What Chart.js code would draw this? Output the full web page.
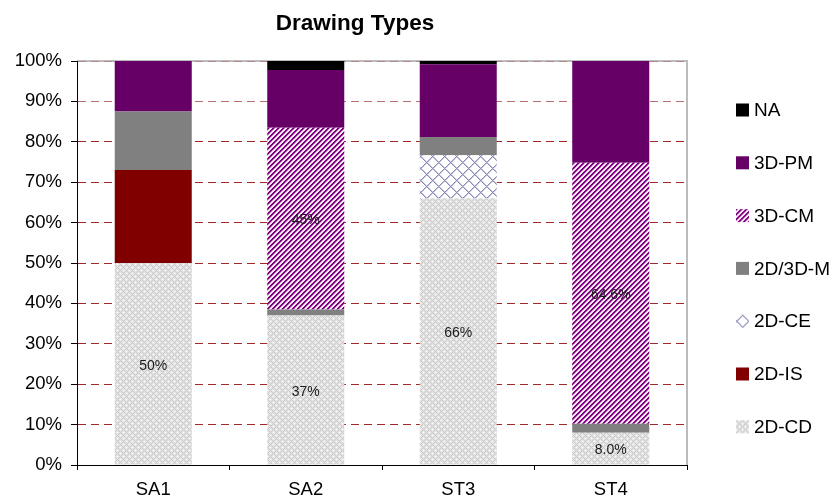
<!DOCTYPE html>
<html>
<head>
<meta charset="utf-8">
<title>Drawing Types</title>
<script src="https://cdn.jsdelivr.net/npm/chart.js@4/dist/chart.umd.min.js"></script>
<style>
  html, body { margin: 0; padding: 0; background: #ffffff; }
  canvas { display: block; }
</style>
</head>
<body>
<canvas id="chart" width="833" height="503"></canvas>
<script>
// Share of each drawing type per group (percent, stacked to 100)
const categories = ['SA1', 'SA2', 'ST3', 'ST4'];
const cdValues = [50, 37, 66, 8.0];        // 2D-CD
const isValues = [23, 0, 0, 0];            // 2D-IS
const ceValues = [0, 0, 10.7, 0];          // 2D-CE
const mValues  = [14.5, 1.5, 4.5, 2.2];    // 2D/3D-M
const cmValues = [0, 45, 0, 64.6];         // 3D-CM
const pmValues = [12.5, 14.3, 18.0, 25.2]; // 3D-PM
const naValues = [0, 2.2, 0.8, 0];         // NA
const yTickValues = [0, 10, 20, 30, 40, 50, 60, 70, 80, 90, 100];
const labelDecimals = [0, 0, 0, 1];        // number format of value labels per group

const FONT = "'Liberation Sans', Arial, Helvetica, sans-serif";
const canvas = document.getElementById('chart');
const ctx2d = canvas.getContext('2d');

// Small pixel tiles used as hatch fills
function makePattern(size, colorAt) {
  const tile = document.createElement('canvas');
  tile.width = size; tile.height = size;
  const g = tile.getContext('2d');
  g.fillStyle = '#ffffff';
  g.fillRect(0, 0, size, size);
  for (let y = 0; y < size; y++) {
    for (let x = 0; x < size; x++) {
      const c = colorAt(x, y);
      if (c) { g.fillStyle = c; g.fillRect(x, y, 1, 1); }
    }
  }
  return ctx2d.createPattern(tile, 'repeat');
}

// light grey fine lattice
const cdPattern = makePattern(6, (x, y) => {
  const a = (x + y) % 6, b = (x - y + 6) % 6;
  if (a === 0 || b === 0) return '#c6c6c6';
  if ((x === 3 && y === 0) || (x === 0 && y === 3)) return '#ffffff';
  return '#e6e6e6';
});
// purple diagonal stripes
const cmPattern = makePattern(5, (x, y) => {
  const k = (x + y) % 5;
  return ['#800080', '#800080', '#c68ac6', '#ffffff', '#eed8ee'][k];
});
// open blue-grey diamond lattice
const cePattern = makePattern(12, (x, y) => {
  const a = (x + y) % 12, b = (x - y + 12) % 12;
  if (a === 0 || b === 0) return '#8a8ab8';
  if (a === 1 || b === 1) return '#c6c6de';
  return null;
});

const datasets = [
  { label: '2D-CD',   data: cdValues, backgroundColor: cdPattern, showValue: true },
  { label: '2D-IS',   data: isValues, backgroundColor: '#800000' },
  { label: '2D-CE',   data: ceValues, backgroundColor: cePattern },
  { label: '2D/3D-M', data: mValues,  backgroundColor: '#808080' },
  { label: '3D-CM',   data: cmValues, backgroundColor: cmPattern, showValue: true },
  { label: '3D-PM',   data: pmValues, backgroundColor: '#660066' },
  { label: 'NA',      data: naValues, backgroundColor: '#000000' }
];

const titleStyle = { text: 'Drawing Types', x: 355, y: 24, font: 'bold 22.5px ' + FONT };
const legendStyle = { x: 736, top: 110, step: 52.8, box: 13, gap: 5, font: '19px ' + FONT };

const framePlugin = {
  id: 'frame',
  beforeDraw(chart) {
    const { ctx, chartArea: a } = chart;
    ctx.save();
    ctx.fillStyle = '#ffffff';
    ctx.fillRect(0, 0, chart.width, chart.height);
    ctx.strokeStyle = '#bcbcbc';
    ctx.lineWidth = 2;
    ctx.beginPath();
    ctx.moveTo(a.left, a.top);
    ctx.lineTo(a.right, a.top);
    ctx.lineTo(a.right, a.bottom);
    ctx.stroke();
    ctx.restore();
  }
};

const valueLabelPlugin = {
  id: 'valueLabels',
  afterDatasetsDraw(chart) {
    const ctx = chart.ctx;
    ctx.save();
    ctx.font = '14px ' + FONT;
    ctx.fillStyle = '#1a1a1a';
    ctx.textAlign = 'center';
    ctx.textBaseline = 'middle';
    chart.data.datasets.forEach((ds, di) => {
      if (!ds.showValue) return;
      chart.getDatasetMeta(di).data.forEach((bar, i) => {
        const v = ds.data[i];
        if (!v) return;
        ctx.fillText(v.toFixed(labelDecimals[i]) + '%', bar.x, (bar.y + bar.base) / 2 + 2);
      });
    });
    ctx.restore();
  }
};

const titleLegendPlugin = {
  id: 'titleLegend',
  afterDraw(chart) {
    const ctx = chart.ctx;
    ctx.save();
    ctx.fillStyle = '#000000';
    ctx.font = titleStyle.font;
    ctx.textAlign = 'center';
    ctx.textBaseline = 'middle';
    ctx.fillText(titleStyle.text, titleStyle.x, titleStyle.y);

    ctx.font = legendStyle.font;
    ctx.textAlign = 'left';
    const items = chart.data.datasets.slice().reverse();
    items.forEach((ds, i) => {
      const cy = legendStyle.top + i * legendStyle.step;
      const bx = legendStyle.x, by = cy - legendStyle.box / 2;
      // swatch: pattern origin anchored to the swatch so each hatch shows one motif
      ctx.save();
      ctx.translate(bx, by - 6);
      ctx.fillStyle = ds.backgroundColor;
      ctx.fillRect(0, 6, legendStyle.box, legendStyle.box);
      ctx.restore();
      ctx.fillStyle = '#000000';
      ctx.fillText(ds.label, bx + legendStyle.box + legendStyle.gap, cy + 1);
    });
    ctx.restore();
  }
};

function gridColor(ctx) {
  const v = ctx.tick ? ctx.tick.value : null;
  if (v === 100) return '#b58a8a';
  if (v === 90) return '#b86e6e';
  return '#a02828';
}

new Chart(canvas, {
  type: 'bar',
  data: { labels: categories, datasets: datasets },
  plugins: [framePlugin, valueLabelPlugin, titleLegendPlugin],
  options: {
    responsive: false,
    devicePixelRatio: 1,
    animation: false,
    layout: { padding: { left: 0, top: 61, right: 146, bottom: 0 } },
    datasets: {
      bar: { categoryPercentage: 1.0, barPercentage: 0.505, borderWidth: 0 }
    },
    plugins: {
      legend: { display: false },
      title: { display: false },
      tooltip: { enabled: false }
    },
    scales: {
      x: {
        stacked: true,
        afterFit(scale) { scale.height = 38; },
        grid: {
          display: true,
          offset: true,
          drawOnChartArea: false,
          tickLength: 5,
          tickColor: '#000000',
          tickWidth: 1
        },
        border: { display: true, color: '#000000', width: 1 },
        ticks: {
          color: '#000000',
          font: { family: FONT, size: 18.5 },
          padding: 9,
          maxRotation: 0
        }
      },
      y: {
        stacked: true,
        min: 0,
        max: 100,
        afterFit(scale) { scale.width = 77; },
        afterBuildTicks(scale) { scale.ticks = yTickValues.map(v => ({ value: v })); },
        grid: {
          color: gridColor,
          lineWidth: 1,
          tickLength: 6,
          tickColor: '#000000',
          tickWidth: 1,
          tickBorderDash: []
        },
        border: { display: true, color: '#000000', width: 1, dash: [8, 5] },
        ticks: {
          color: '#000000',
          font: { family: FONT, size: 18.5 },
          padding: 9,
          callback: v => v + '%'
        }
      }
    }
  }
});
</script>
</body>
</html>
